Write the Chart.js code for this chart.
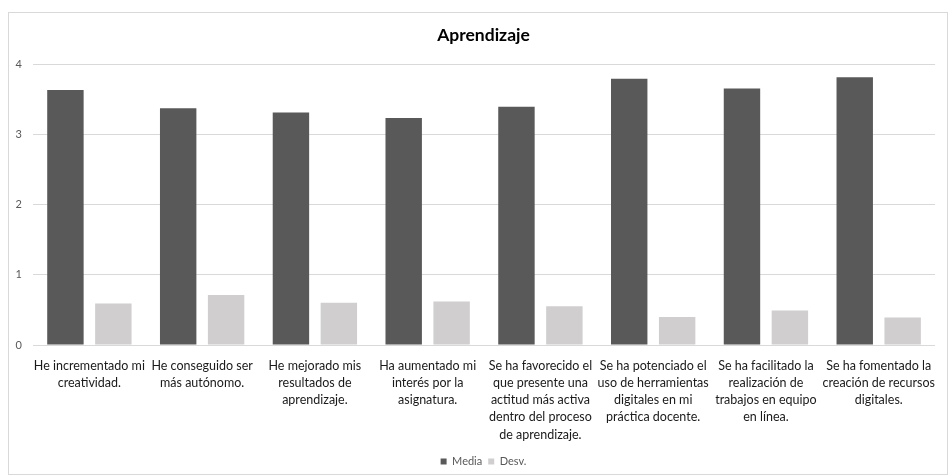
<!DOCTYPE html>
<html>
<head>
<meta charset="utf-8">
<script src="https://cdn.jsdelivr.net/npm/chart.js@4/dist/chart.umd.min.js"></script>
<style>
  html, body { margin: 0; padding: 0; background: #fff; }
  #frame {
    position: absolute; left: 8px; top: 12px;
    width: 938px; height: 461px;
    border: 1px solid #d9d9d9;
  }
  #frame canvas { display: block; }
</style>
</head>
<body>
<div id="frame"><canvas id="chart" width="938" height="461"></canvas></div>
<script>
const chartTitle = 'Aprendizaje';
const categories = [
  ['He incrementado mi', 'creatividad.'],
  ['He conseguido ser', 'más autónomo.'],
  ['He mejorado mis', 'resultados de', 'aprendizaje.'],
  ['Ha aumentado mi', 'interés por la', 'asignatura.'],
  ['Se ha favorecido el', 'que presente una', 'actitud más activa', 'dentro del proceso', 'de aprendizaje.'],
  ['Se ha potenciado el', 'uso de herramientas', 'digitales en mi', 'práctica docente.'],
  ['Se ha facilitado la', 'realización de', 'trabajos en equipo', 'en línea.'],
  ['Se ha fomentado la', 'creación de recursos', 'digitales.']
];
const media = [3.63, 3.37, 3.31, 3.23, 3.39, 3.79, 3.65, 3.81];
const desv = [0.59, 0.71, 0.60, 0.62, 0.55, 0.40, 0.49, 0.39];
const yTicks = [0, 1, 2, 3, 4];

const FONT = 'Lato, "Open Sans", sans-serif';

// Centre the title and legend over the whole frame rather than the
// area left over after the value axis.
const centreOverFrame = {
  id: 'centreOverFrame',
  afterLayout(chart) {
    const shift = 13;
    if (chart.titleBlock) chart.titleBlock.left = shift;
    if (chart.legend) chart.legend.left = shift;
  }
};

new Chart(document.getElementById('chart'), {
  type: 'bar',
  data: {
    labels: categories,
    datasets: [
      { label: 'Media', data: media, backgroundColor: '#595959' },
      { label: 'Desv.', data: desv, backgroundColor: '#d0cece' }
    ]
  },
  plugins: [centreOverFrame],
  options: {
    responsive: false,
    animation: false,
    devicePixelRatio: 1,
    datasets: { bar: { categoryPercentage: 0.85, barPercentage: 0.76 } },
    layout: { padding: { left: 0, right: 2, top: 12, bottom: -3 } },
    plugins: {
      title: {
        display: true,
        text: chartTitle,
        color: '#000',
        font: { family: FONT, size: 17.5, weight: 'bold', lineHeight: 1.2 },
        padding: { top: 0, bottom: 18 }
      },
      legend: {
        position: 'bottom',
        labels: {
          color: '#595959',
          font: { family: FONT, size: 11 },
          boxWidth: 6,
          boxHeight: 6,
          padding: 6
        }
      },
      tooltip: { enabled: false }
    },
    scales: {
      x: {
        grid: { display: false, drawTicks: false },
        border: { display: false },
        ticks: {
          color: '#1a1a1a',
          font: { family: FONT, size: 12.5, lineHeight: 1.38 },
          padding: 12,
          maxRotation: 0,
          autoSkip: false
        },
        afterFit(scale) { scale.height = 105; }
      },
      y: {
        min: 0,
        max: 4,
        afterBuildTicks(scale) { scale.ticks = yTicks.map(v => ({ value: v })); },
        grid: { color: '#d9d9d9', drawTicks: false },
        border: { display: false },
        ticks: {
          color: '#595959',
          font: { family: FONT, size: 11 },
          padding: 11
        },
        afterFit(scale) { scale.width = 24; }
      }
    }
  }
});
</script>
</body>
</html>
